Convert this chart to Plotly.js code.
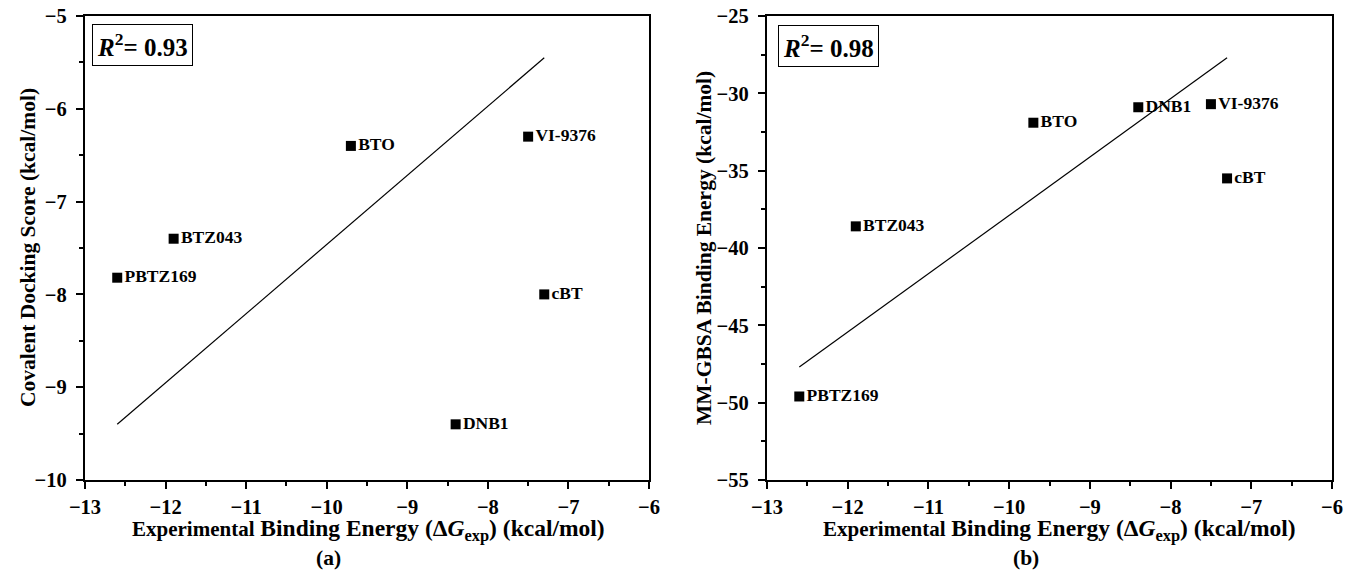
<!DOCTYPE html>
<html>
<head>
<meta charset="utf-8">
<script src="https://cdn.plot.ly/plotly-3.0.1.min.js"></script>
<style>html,body{margin:0;padding:0;background:#fff;}#chart{width:1352px;height:580px;}</style>
</head>
<body>
<div id="chart"></div>
<script>
// ---- data ----
const compounds = ['BTO', 'VI-9376', 'cBT', 'BTZ043', 'PBTZ169', 'DNB1'];
const expDG     = [-9.7, -7.5, -7.3, -11.9, -12.6, -8.4];
const dockScore = [-6.4, -6.3, -8.0, -7.4, -7.82, -9.4];
const mmgbsa    = [-31.9, -30.7, -35.5, -38.6, -49.6, -30.9];
const fitX      = [-12.6, -7.3];
const fitDock   = [-9.4, -5.45];
const fitMM     = [-47.7, -27.7];
const r2Labels  = ['0.93', '0.98'];
const xTicks    = [-13, -12, -11, -10, -9, -8, -7, -6];
const yTicks1   = [-10, -9, -8, -7, -6, -5];
const yTicks2   = [-55, -50, -45, -40, -35, -30, -25];

const W = 1352;
const FONT = 'Liberation Serif';
const tickFont = {family: FONT, size: 20.5, color: '#000', weight: 700};
const lblFont = {family: FONT, size: 17.5, color: '#000', weight: 700};
const fmt = v => '<b>' + (v < 0 ? '\u2212' + Math.abs(v) : String(v)) + '</b>';

function scatter(y, xa, ya) {
  return {
    x: expDG, y: y, xaxis: xa, yaxis: ya, type: 'scatter', mode: 'markers+text',
    text: compounds, textposition: 'middle right', textfont: lblFont,
    marker: {symbol: 'square', size: 10, color: '#000'}, hoverinfo: 'skip', cliponaxis: false
  };
}
function fit(y, xa, ya) {
  return {x: fitX, y: y, xaxis: xa, yaxis: ya, type: 'scatter', mode: 'lines',
          line: {color: '#000', width: 1.2}, hoverinfo: 'skip'};
}

const data = [fit(fitDock, 'x', 'y'), scatter(dockScore, 'x', 'y'),
              fit(fitMM, 'x2', 'y2'), scatter(mmgbsa, 'x2', 'y2')];

function xax(d, anchor) {
  return {domain: d, anchor: anchor, range: [-13, -6], tickmode: 'array', tickvals: xTicks, ticktext: xTicks.map(fmt),
          ticks: 'outside', ticklen: 7, tickwidth: 2,
          showline: true, linewidth: 2, linecolor: '#000', mirror: true, showgrid: false, zeroline: false,
          tickfont: Object.assign({}, tickFont), tickcolor: '#000',
          minor: {dtick: 0.5, tick0: -13, ticks: 'outside', ticklen: 4, tickwidth: 2, tickcolor: '#000', showgrid: false}};
}
function yax(r, vals, anchor) {
  const dt = vals[1] - vals[0];
  return {range: r, anchor: anchor, tickmode: 'array', tickvals: vals, ticktext: vals.map(v => fmt(v) + ' '),
          ticks: 'outside', ticklen: 7, tickwidth: 2,
          showline: true, linewidth: 2, linecolor: '#000', mirror: true, showgrid: false, zeroline: false,
          tickfont: Object.assign({}, tickFont), tickcolor: '#000',
          minor: {dtick: dt / 2, tick0: r[0], ticks: 'outside', ticklen: 4, tickwidth: 2, tickcolor: '#000', showgrid: false}};
}

const d1 = [85 / W, 649 / W];
const d2 = [767 / W, 1332 / W];
const ph = 580 - 16 - 100;
const titleFont = {family: FONT, size: 23.5, color: '#000', weight: 700};
const yTitleFont = {family: FONT, size: 21.5, color: '#000', weight: 700};
const xTitle = '<b><span style="font-size:21px">Experimental</span> Binding Energy (Δ<i>G</i><sub>exp</sub>) (kcal/mol)</b>';

const annotations = [
  {xref: 'paper', yref: 'paper', x: 368 / W, y: -50 / ph, xanchor: 'center', yanchor: 'middle', text: xTitle, showarrow: false, font: titleFont},
  {xref: 'paper', yref: 'paper', x: 1059 / W, y: -50 / ph, xanchor: 'center', yanchor: 'middle', text: xTitle, showarrow: false, font: titleFont},
  {xref: 'paper', yref: 'paper', x: 328 / W, y: -78 / ph, xanchor: 'center', yanchor: 'middle', text: '<b>(a)</b>', showarrow: false, font: yTitleFont},
  {xref: 'paper', yref: 'paper', x: 1026 / W, y: -78 / ph, xanchor: 'center', yanchor: 'middle', text: '<b>(b)</b>', showarrow: false, font: yTitleFont},
  {xref: 'paper', yref: 'paper', x: 28 / W, y: 0.5, xanchor: 'center', yanchor: 'middle', text: '<b>Covalent Docking Score (kcal/mol)</b>', textangle: -90, showarrow: false, font: yTitleFont},
  {xref: 'paper', yref: 'paper', x: 704 / W, y: 0.5, xanchor: 'center', yanchor: 'middle', text: '<b>MM-GBSA Binding Energy (kcal/mol)</b>', textangle: -90, showarrow: false, font: yTitleFont},
  {xref: 'paper', yref: 'paper', x: 92 / W, y: 1 - 8 / ph, xanchor: 'left', yanchor: 'top',
   text: '<b><i>R</i><sup>2</sup>= ' + r2Labels[0] + '</b>', showarrow: false, font: {family: FONT, size: 25, color: '#000', weight: 700},
   bordercolor: '#000', borderwidth: 1, borderpad: 4, bgcolor: '#fff'},
  {xref: 'paper', yref: 'paper', x: 778 / W, y: 1 - 9 / ph, xanchor: 'left', yanchor: 'top',
   text: '<b><i>R</i><sup>2</sup>= ' + r2Labels[1] + '</b>', showarrow: false, font: {family: FONT, size: 25, color: '#000', weight: 700},
   bordercolor: '#000', borderwidth: 1, borderpad: 4, bgcolor: '#fff'}
];

const layout = {
  width: 1352, height: 580, margin: {l: 0, r: 0, t: 16, b: 100},
  paper_bgcolor: '#fff', plot_bgcolor: '#fff', showlegend: false,
  xaxis: xax(d1, 'y'),
  yaxis: yax([-10, -5], yTicks1, 'x'),
  xaxis2: xax(d2, 'y2'),
  yaxis2: yax([-55, -25], yTicks2, 'x2'),
  annotations: annotations
};

Plotly.newPlot('chart', data, layout, {displayModeBar: false, staticPlot: true});
</script>
</body>
</html>
